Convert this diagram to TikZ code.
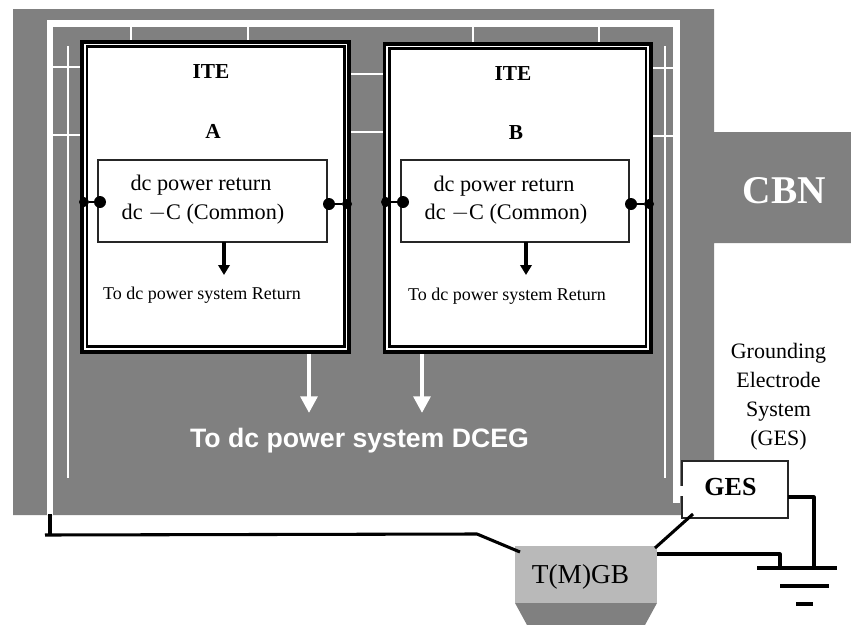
\documentclass[tikz,border=0pt]{standalone}
\usepackage{fontspec}
\setmainfont{Liberation Serif}
\newfontfamily\arialfont{Liberation Sans}
\usetikzlibrary{arrows.meta}
\definecolor{bandgray}{HTML}{808080}
\definecolor{barlight}{HTML}{B9B9B9}
\tikzset{
  x=0.75pt,y=-0.75pt,
  box/.style={draw=black,fill=white,inner sep=0pt,outer sep=0pt},
  layerblack/.style={fill=black,inner sep=0pt,outer sep=0pt},
  layerwhite/.style={fill=white,inner sep=0pt,outer sep=0pt},
  whitethick/.style={draw=white,line width=5pt},
  whitethin/.style={draw=white,line width=2.2pt},
  blk/.style={draw=black,line width=2.3pt},
  blkthin/.style={draw=black,line width=1.8pt},
  wharrow/.style={draw=white,line width=3pt,-{Triangle[length=12.5pt,width=12.5pt]}},
  bkarrow/.style={draw=black,line width=2.3pt,-{Triangle[length=7.5pt,width=8.5pt]}},
  dot/.style={circle,fill=black,inner sep=0pt,minimum size=#1*0.75pt},
  lab/.style={font=\fontsize{16.7pt}{18pt}\selectfont,inner sep=0pt},
  smalllab/.style={font=\fontsize{13.5pt}{15pt}\selectfont,inner sep=0pt},
  head/.style={font=\fontsize{16pt}{18pt}\selectfont\bfseries,inner sep=0pt},
}
\begin{document}
\begin{tikzpicture}
\useasboundingbox (0,0) rectangle (851,625);
% grey building
\fill[bandgray] (13,9) -- (714,9) -- (714,132) -- (851,132) -- (851,243) -- (714,243) -- (714,515) -- (13,515) -- cycle;
% T(M)GB
\fill[bandgray] (515,603) -- (657,603) -- (645,625) -- (527,625) -- cycle;
\node[fill=barlight,minimum width=106.5pt,minimum height=42.75pt,inner sep=0pt,outer sep=0pt] (tmgb) at (586,574.5) {};
\node[font=\fontsize{20.5pt}{22pt}\selectfont,inner sep=0pt] (tmgbtxt) at (580.5,577) {T(M)GB};
% named ends
\coordinate (oTL) at (50,23.5);
\coordinate (oTR) at (676.5,23.5);
\coordinate (oBL) at (50,515);
\coordinate (oBR) at (676.5,503);
% outer white conductor
\draw[whitethick,line join=miter] (oBL) -- (oTL) -- (oTR) -- (oBR);
\draw[whitethin] (68,46) -- (68,478);
\draw[whitethin] (665,46) -- (665,478);
% stubs
\draw[whitethin] (53,67) -- (82,67);
\draw[whitethin] (53,135) -- (82,135);
\draw[whitethin] (131,26) -- (131,42);
\draw[whitethin] (248,26) -- (248,42);
\draw[whitethin] (473,26) -- (473,44);
\draw[whitethin] (599,26) -- (599,44);
\draw[whitethin] (349,74) -- (385,74);
\draw[whitethin] (349,132) -- (385,132);
\draw[whitethin] (650,68) -- (674,68);
\draw[whitethin] (650,136) -- (674,136);
% ITE A
\node[layerblack,minimum width=203.25pt,minimum height=235.5pt] (iteAo) at (215.5,197) {};
\node[layerwhite,minimum width=197.25pt,minimum height=229.5pt] (iteAg) at (215.5,197) {};
\node[layerblack,minimum width=195pt,minimum height=226.9pt] (iteAb) at (215.5,196.75) {};
\node[layerwhite,minimum width=191.25pt,minimum height=222.5pt] (iteAi) at (215.8,196.65) {};
% ITE B
\node[layerblack,minimum width=202.5pt,minimum height=234pt] (iteBo) at (518,198) {};
\node[layerwhite,minimum width=196.9pt,minimum height=228pt] (iteBg) at (517.75,198) {};
\node[layerblack,minimum width=194.6pt,minimum height=225.4pt] (iteBb) at (517.75,197.75) {};
\node[layerwhite,minimum width=190.5pt,minimum height=221.25pt] (iteBi) at (518,197.5) {};
% Inner boxes
\node[box,draw=black!85,line width=0.9pt,minimum width=171.75pt,minimum height=61.5pt] (retA) at (212.5,201) {};
\node[box,draw=black!85,line width=0.9pt,minimum width=171pt,minimum height=61.5pt] (retB) at (515,201) {};
% labels
\node[head] (tA) at (211,72) {ITE};
\node[head] (tB) at (213,131) {A};
\node[head] (tC) at (513,74) {ITE};
\node[head] (tD) at (516,133) {B};
\node[lab] (a1) at (201,185) {dc power return};
\node[lab] (a2) at (203,214) {dc $-$C (Common)};
\node[lab] (b1) at (504,186) {dc power return};
\node[lab] (b2) at (506,214) {dc $-$C (Common)};
\node[smalllab] (a3) at (202,295) {To dc power system Return};
\node[smalllab] (b3) at (507,296) {To dc power system Return};
% dots
\node[dot=10] (dA1) at (84,202) {};
\node[dot=12] (dA2) at (100,202) {};
\node[dot=12] (dA3) at (329,204) {};
\node[dot=10] (dA4) at (347,204) {};
\node[dot=10] (dB1) at (386,202) {};
\node[dot=12] (dB2) at (403,202) {};
\node[dot=12] (dB3) at (631,204) {};
\node[dot=10] (dB4) at (649,204) {};
\draw[blkthin] (dA1) -- (dA2);
\draw[blkthin] (dA3) -- (dA4);
\draw[blkthin] (dB1) -- (dB2);
\draw[blkthin] (dB3) -- (dB4);
% black arrows
\coordinate (eA) at (224,275);
\coordinate (eB) at (526,275);
\draw[bkarrow] (retA.south -| eA) -- (eA);
\draw[bkarrow] (retB.south -| eB) -- (eB);
% white arrows
\coordinate (wA) at (309,413);
\coordinate (wB) at (422,413);
\draw[wharrow] (iteAo.south -| wA) -- (wA);
\draw[wharrow] (iteBo.south -| wB) -- (wB);
\node[font=\arialfont\bfseries\fontsize{20pt}{22pt}\selectfont,text=white,inner sep=0pt] (dceg) at (359.5,441) {To dc power system DCEG};
\node[font=\bfseries\fontsize{29.5pt}{32pt}\selectfont,text=white,inner sep=0pt] (cbn) at (784.5,191) {CBN};
% GES label
\node[font=\fontsize{16.5pt}{21.8pt}\selectfont,align=center,inner sep=0pt] (geslab) at (778.5,397) {Grounding\\Electrode\\System\\(GES)};
% GES box
\node[box,draw=black!85,line width=1pt,minimum width=79.5pt,minimum height=42.75pt] (ges) at (735,489.5) {};
\node[font=\fontsize{19.5pt}{21pt}\selectfont\bfseries,inner sep=0pt] (gestxt) at (730.5,487) {GES};
% white stub over GES edge
\fill[white] (679,486) rectangle (684,496);
% earth
\coordinate (g1a) at (757,568);
\coordinate (g1b) at (837,568);
\coordinate (g2a) at (780,586);
\coordinate (g2b) at (829,586);
\coordinate (g3a) at (796,604);
\coordinate (g3b) at (813,604);
\draw[blk] (g1a) -- (g1b);
\draw[blk] (g2a) -- (g2b);
\draw[blk] (g3a) -- (g3b);
% connectors
\coordinate (c1) at (50,535);
\coordinate (c2) at (45,535);
\coordinate (c3) at (477,534);
\coordinate (c4) at (520,552);
\coordinate (c5) at (50,514);
\draw[blk] (c5) -- (c1);
\draw[blk,line join=round] (c2) -- (c3) -- (c4);
\coordinate (c6) at (693,514);
\coordinate (c7) at (655,548);
\draw[blk] (c6) -- (c7);
\coordinate (c8) at (657,554);
\coordinate (c9) at (780,554);
\coordinate (c10) at (780,567);
\draw[blk,line join=round] (c8) -- (c9) -- (c10);
\coordinate (c11) at (788,497);
\coordinate (c12) at (814,497);
\coordinate (c13) at (814,566);
\draw[blk,line join=round] (c11) -- (c12) -- (c13);
\end{tikzpicture}
\end{document}
